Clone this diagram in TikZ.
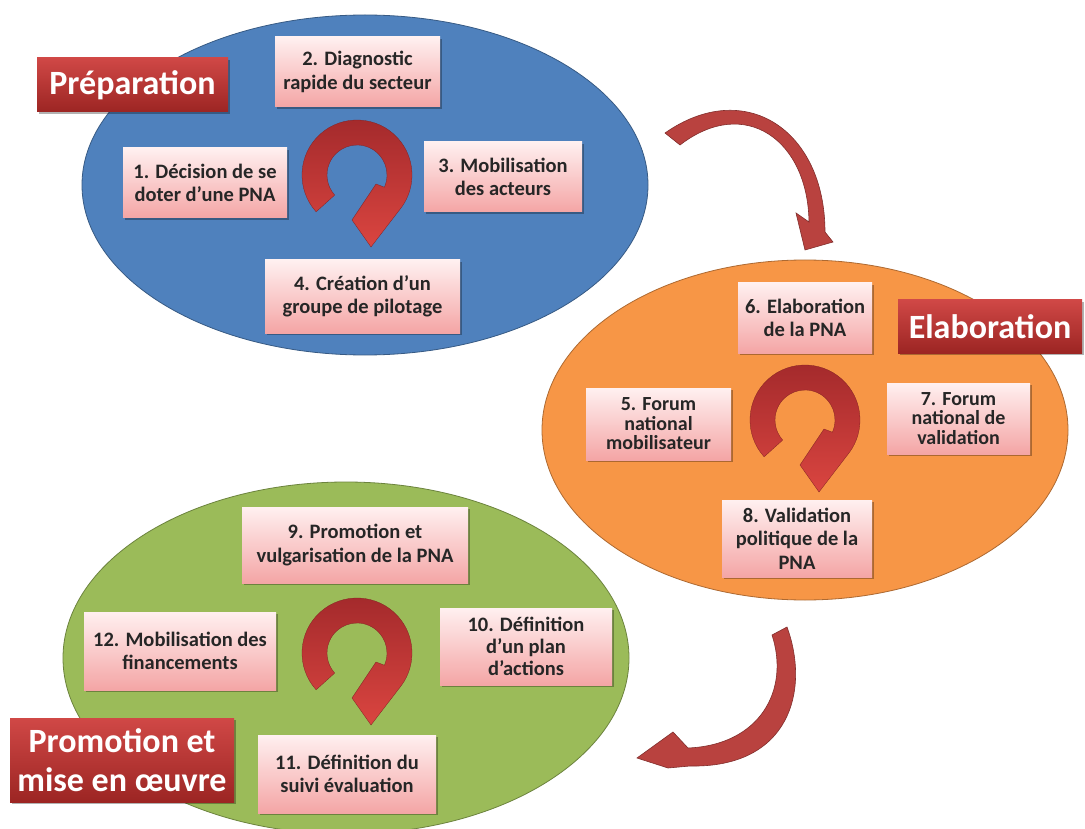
\documentclass[tikz,border=0pt]{standalone}
\usepackage{fontspec}
\setmainfont{Carlito}
\usetikzlibrary{shapes.geometric, shadows}

\definecolor{prepblue}{HTML}{4F81BD}
\definecolor{elaborange}{HTML}{F79646}
\definecolor{promgreen}{HTML}{9BBB59}
\definecolor{pinktop}{HTML}{FFF0F0}
\definecolor{pinkbot}{HTML}{F4A5A5}
\definecolor{labeltop}{HTML}{D04846}
\definecolor{labelbot}{HTML}{9C2523}
\definecolor{looptop}{HTML}{A2292B}
\definecolor{loopbot}{HTML}{DA4540}
\definecolor{arrowred}{HTML}{B9423F}

% circular arrow inside each phase
\newcommand\cyclearrow[1]{%
  \begin{scope}[shift={#1}, x=1pt, y=1pt]
    \shade[top color=looptop, bottom color=loopbot, draw=looptop!80!black, line width=0.3pt]
      (222:55) arc[start angle=222, end angle=-36, radius=55]
      -- (14,-72) -- (-5,-45) -- (19,-9) -- (-24:30)
      arc[start angle=-24, end angle=222, radius=30] -- cycle;
  \end{scope}}

\begin{document}
\begin{tikzpicture}[
  x=1pt, y=-1pt,
  phase/.style={ellipse, draw=#1!70!black, fill=#1, line width=0.8pt, inner sep=0pt},
  stepbox/.style={rectangle, top color=pinktop, bottom color=pinkbot, align=center,
    text=black!85, font=\fontsize{20.5}{23.5}\selectfont\bfseries, inner sep=2pt,
    drop shadow={shadow xshift=1.5pt, shadow yshift=-2pt, fill=black, opacity=0.3}},
  phaselabel/.style={rectangle, top color=labeltop, bottom color=labelbot, align=center,
    text=white, font=\fontsize{34}{39}\selectfont\bfseries, inner sep=2pt,
    drop shadow={shadow xshift=2pt, shadow yshift=-2pt, fill=black, opacity=0.3}},
  bigarrow/.style={fill=arrowred, draw=arrowred!70!black, line width=0.6pt}
]
\useasboundingbox (0,0) rectangle (1085,829);
\fill[white] (0,0) rectangle (1085,829);

% Phases
\node[phase=prepblue, minimum width=566, minimum height=340] (prep) at (365,185) {};
\node[phase=elaborange, minimum width=526, minimum height=340] (elab) at (805,430) {};
\node[phase=promgreen, minimum width=566, minimum height=352] (prom) at (346,658) {};

% Arrows between phases
\coordinate (flowAtail) at (665,133);
\coordinate (flowAtip) at (805,250);
\filldraw[bigarrow] (flowAtail) .. controls (745,77) and (825,130) .. (825,232)
  -- (833,242) -- (flowAtip) -- (796,213) -- (809,222)
  .. controls (808,140) and (745,95) .. (680,145) -- cycle;

\coordinate (flowBtail) at (787,627);
\coordinate (flowBtip) at (637,758);
\filldraw[bigarrow] (flowBtail) .. controls (810,690) and (790,768) .. (690,766)
  -- (668,768) -- (flowBtip) -- (673,732) -- (688,748)
  .. controls (760,745) and (790,690) .. (772,635) -- cycle;

% Cycles
\coordinate (loopprep) at (357,175);
\coordinate (loopelab) at (805,420);
\coordinate (loopprom) at (357,653);
\cyclearrow{(loopprep)}
\cyclearrow{(loopelab)}
\cyclearrow{(loopprom)}

% Steps
\node[stepbox, minimum width=164, minimum height=70] (s1) at (205,183) {1. Décision de se\\doter d’une PNA};
\node[stepbox, minimum width=165, minimum height=70] (s2) at (357.5,72) {2. Diagnostic\\rapide du secteur};
\node[stepbox, minimum width=158, minimum height=70] (s3) at (503,177) {3. Mobilisation\\des acteurs};
\node[stepbox, minimum width=195, minimum height=73] (s4) at (362.5,296.5) {4. Création d’un\\groupe de pilotage};

\node[stepbox, minimum width=145, minimum height=72, font=\fontsize{20}{19.5}\selectfont\bfseries] (s5) at (658.5,424) {5. Forum\\national\\mobilisateur};
\node[stepbox, minimum width=134, minimum height=70] (s6) at (805,318) {6. Elaboration\\de la PNA};
\node[stepbox, minimum width=143, minimum height=71, font=\fontsize{20}{19.5}\selectfont\bfseries] (s7) at (958.5,418.5) {7. Forum\\national de\\validation};
\node[stepbox, minimum width=150, minimum height=77] (s8) at (797,538.5) {8. Validation\\politique de la\\PNA};

\node[stepbox, minimum width=226, minimum height=76] (s9) at (355,545) {9. Promotion et\\vulgarisation de la PNA};
\node[stepbox, minimum width=172, minimum height=77, font=\fontsize{20.5}{22}\selectfont\bfseries] (s10) at (526,646.5) {10. Définition\\d’un plan\\d’actions};
\node[stepbox, minimum width=178, minimum height=78] (s11) at (347,774) {11. Définition du\\suivi évaluation};
\node[stepbox, minimum width=192, minimum height=78] (s12) at (180,651) {12. Mobilisation des\\financements};

% Phase labels
\node[phaselabel, minimum width=191, minimum height=54] (lprep) at (132.5,85) {Préparation};
\node[phaselabel, minimum width=184, minimum height=53] (lelab) at (990,326.5) {Elaboration};
\node[phaselabel, minimum width=224, minimum height=84] (lprom) at (122,760) {Promotion et\\mise en œuvre};

\end{tikzpicture}
\end{document}
